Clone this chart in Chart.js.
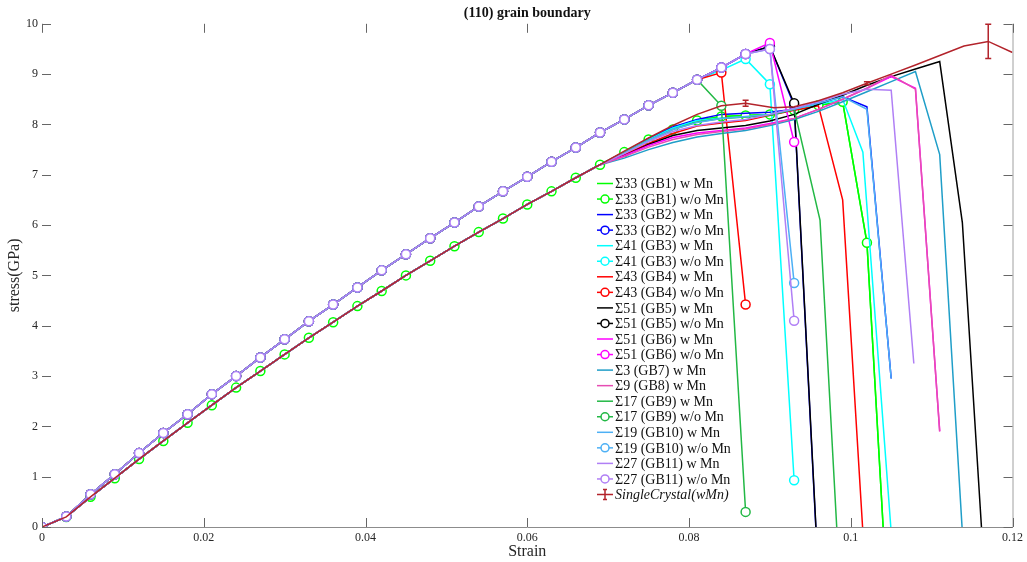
<!DOCTYPE html>
<html>
<head>
<meta charset="utf-8">
<script src="https://cdn.jsdelivr.net/npm/chart.js@4.4.1/dist/chart.umd.min.js"></script>
<style>
  html, body { margin: 0; padding: 0; background: #fff; }
  #wrap { width: 1027px; height: 562px; }
</style>
</head>
<body>
<div id="wrap"><canvas id="chart"></canvas></div>
<script>
// strain grid used by the loading part of every curve (step 0.003)
const strainGrid = [0, 0.003, 0.006, 0.009, 0.012, 0.015, 0.018, 0.021, 0.024, 0.027, 0.03, 0.033,
  0.036, 0.039, 0.042, 0.045, 0.048, 0.051, 0.054, 0.057, 0.06, 0.063, 0.066, 0.069, 0.072, 0.075,
  0.078, 0.081, 0.084, 0.087];

// loading path without Mn (upper curve), 0 .. 0.087
const stressNoMn = [0, 0.21, 0.65, 1.05, 1.47, 1.87, 2.24, 2.64, 3.0, 3.37, 3.73, 4.09, 4.42, 4.76,
  5.1, 5.42, 5.74, 6.05, 6.37, 6.67, 6.96, 7.26, 7.54, 7.84, 8.1, 8.38, 8.63, 8.89, 9.13, 9.4];

// loading path with Mn (lower curve), 0 .. 0.069
const stressMn = [0, 0.2, 0.6, 0.97, 1.35, 1.71, 2.07, 2.42, 2.77, 3.1, 3.43, 3.76, 4.07, 4.39,
  4.69, 5.0, 5.29, 5.58, 5.86, 6.13, 6.41, 6.67, 6.94, 7.2];

// failure parts, per series
const gb1Strain = [0.072, 0.075, 0.078, 0.081, 0.084, 0.087, 0.09, 0.093, 0.096, 0.099, 0.102, 0.105];
const gb1Stress = [7.45, 7.7, 7.9, 8.08, 8.16, 8.18, 8.2, 8.28, 8.38, 8.45, 5.65, -2.8];

const gb2MnStrain = [0.072, 0.075, 0.078, 0.081, 0.084, 0.087, 0.09, 0.093, 0.096, 0.099, 0.102, 0.105];
const gb2MnStress = [7.45, 7.72, 7.95, 8.1, 8.2, 8.22, 8.24, 8.3, 8.42, 8.55, 8.35, 2.95];
const gb2Strain = [0.09, 0.093, 0.096];
const gb2Stress = [9.55, 8.38, -1.0];

const gb3MnStrain = [0.072, 0.075, 0.078, 0.081, 0.084, 0.087, 0.09, 0.093, 0.096, 0.099, 0.1015, 0.105];
const gb3MnStress = [7.45, 7.7, 7.93, 8.08, 8.13, 8.15, 8.2, 8.3, 8.4, 8.5, 7.45, -0.1];
const gb3Strain = [0.084, 0.087, 0.09, 0.093];
const gb3Stress = [9.08, 9.3, 8.8, 0.93];

const gb4MnStrain = [0.072, 0.075, 0.078, 0.081, 0.084, 0.087, 0.09, 0.093, 0.096, 0.099, 0.1015];
const gb4MnStress = [7.4, 7.62, 7.82, 7.97, 8.03, 8.08, 8.18, 8.28, 8.37, 6.5, -0.1];
const gb4Strain = [0.084, 0.087];
const gb4Stress = [9.03, 4.42];

const gb5MnStrain = [0.072, 0.075, 0.078, 0.081, 0.084, 0.087, 0.09, 0.093, 0.096, 0.099, 0.102,
  0.105, 0.108, 0.111, 0.1138, 0.1162];
const gb5MnStress = [7.38, 7.6, 7.78, 7.88, 7.93, 7.98, 8.07, 8.2, 8.4, 8.58, 8.78, 8.95, 9.1, 9.25, 6.05, -0.1];
const gb5Strain = [0.09, 0.093, 0.096];
const gb5Stress = [9.55, 8.42, -0.95];

const gb6MnStrain = [0.072, 0.075, 0.078, 0.081, 0.084, 0.087, 0.09, 0.093, 0.096, 0.099, 0.102, 0.105, 0.108, 0.111];
const gb6MnStress = [7.38, 7.58, 7.74, 7.83, 7.88, 7.93, 8.02, 8.12, 8.3, 8.5, 8.72, 8.95, 8.72, 1.9];
const gb6Strain = [0.09, 0.093];
const gb6Stress = [9.62, 7.65];

const gb7MnStrain = [0.072, 0.075, 0.078, 0.081, 0.084, 0.087, 0.09, 0.093, 0.096, 0.099, 0.102, 0.105, 0.108, 0.111, 0.1138];
const gb7MnStress = [7.33, 7.5, 7.64, 7.75, 7.82, 7.88, 7.98, 8.1, 8.26, 8.45, 8.65, 8.85, 9.05, 7.4, -0.1];

const gb8MnStrain = [0.072, 0.075, 0.078, 0.081, 0.084, 0.087, 0.09, 0.093, 0.096, 0.099, 0.102, 0.105, 0.108, 0.111];
const gb8MnStress = [7.36, 7.55, 7.7, 7.8, 7.86, 7.91, 8.0, 8.12, 8.3, 8.5, 8.72, 8.98, 8.7, 1.9];

const gb9MnStrain = [0.072, 0.075, 0.078, 0.081, 0.084, 0.087, 0.09, 0.093, 0.0962, 0.0983];
const gb9MnStress = [7.44, 7.68, 7.9, 8.05, 8.12, 8.15, 8.18, 8.3, 6.1, -0.1];
const gb9Strain = [0.084, 0.087];
const gb9Stress = [8.37, 0.3];

const gb10MnStrain = [0.072, 0.075, 0.078, 0.081, 0.084, 0.087, 0.09, 0.093, 0.096, 0.099, 0.102, 0.105];
const gb10MnStress = [7.43, 7.68, 7.9, 8.04, 8.12, 8.16, 8.2, 8.3, 8.42, 8.55, 8.3, 2.95];
const gb10Strain = [0.09, 0.093];
const gb10Stress = [9.5, 4.85];

const gb11MnStrain = [0.072, 0.075, 0.078, 0.081, 0.084, 0.087, 0.09, 0.093, 0.096, 0.099, 0.102, 0.105, 0.1078];
const gb11MnStress = [7.42, 7.66, 7.86, 7.98, 8.05, 8.1, 8.2, 8.32, 8.45, 8.6, 8.7, 8.68, 3.25];
const gb11Strain = [0.09, 0.093];
const gb11Stress = [9.5, 4.1];

const crystalStrain = [0.072, 0.075, 0.078, 0.081, 0.084, 0.087, 0.0905, 0.093, 0.096, 0.099, 0.102,
  0.105, 0.108, 0.111, 0.114, 0.117, 0.12];
const crystalStress = [7.47, 7.73, 7.98, 8.2, 8.37, 8.42, 8.33, 8.35, 8.47, 8.63, 8.82, 9.0, 9.18,
  9.37, 9.56, 9.65, 9.43];
const crystalError = [0, 0, 0, 0, 0, 0.06, 0, 0, 0, 0, 0.03, 0, 0, 0, 0, 0.34, 0];

const SERIF = '"Liberation Serif", "DejaVu Serif", serif';

// head: which loading path, cut: how many grid points of it are used
const series = [
  { label: 'Σ33 (GB1) w Mn', color: '#00ff00', head: stressMn, cut: 24, strain: gb1Strain, stress: gb1Stress },
  { label: 'Σ33 (GB1) w/o Mn', color: '#00ff00', marker: true, head: stressMn, cut: 24, strain: gb1Strain, stress: gb1Stress },
  { label: 'Σ33 (GB2) w Mn', color: '#0000ff', head: stressMn, cut: 24, strain: gb2MnStrain, stress: gb2MnStress },
  { label: 'Σ33 (GB2) w/o Mn', color: '#0000ff', marker: true, head: stressNoMn, cut: 30, strain: gb2Strain, stress: gb2Stress },
  { label: 'Σ41 (GB3) w Mn', color: '#00ffff', head: stressMn, cut: 24, strain: gb3MnStrain, stress: gb3MnStress },
  { label: 'Σ41 (GB3) w/o Mn', color: '#00ffff', marker: true, head: stressNoMn, cut: 28, strain: gb3Strain, stress: gb3Stress },
  { label: 'Σ43 (GB4) w Mn', color: '#ff0000', head: stressMn, cut: 24, strain: gb4MnStrain, stress: gb4MnStress },
  { label: 'Σ43 (GB4) w/o Mn', color: '#ff0000', marker: true, head: stressNoMn, cut: 28, strain: gb4Strain, stress: gb4Stress },
  { label: 'Σ51 (GB5) w Mn', color: '#000000', head: stressMn, cut: 24, strain: gb5MnStrain, stress: gb5MnStress },
  { label: 'Σ51 (GB5) w/o Mn', color: '#000000', marker: true, head: stressNoMn, cut: 30, strain: gb5Strain, stress: gb5Stress },
  { label: 'Σ51 (GB6) w Mn', color: '#ff00ff', head: stressMn, cut: 24, strain: gb6MnStrain, stress: gb6MnStress },
  { label: 'Σ51 (GB6) w/o Mn', color: '#ff00ff', marker: true, head: stressNoMn, cut: 30, strain: gb6Strain, stress: gb6Stress },
  { label: 'Σ3 (GB7) w Mn', color: '#1f9ec8', head: stressMn, cut: 24, strain: gb7MnStrain, stress: gb7MnStress },
  { label: 'Σ9 (GB8) w Mn', color: '#e64db3', head: stressMn, cut: 24, strain: gb8MnStrain, stress: gb8MnStress },
  { label: 'Σ17 (GB9) w Mn', color: '#22b845', head: stressMn, cut: 24, strain: gb9MnStrain, stress: gb9MnStress },
  { label: 'Σ17 (GB9) w/o Mn', color: '#22b845', marker: true, head: stressNoMn, cut: 28, strain: gb9Strain, stress: gb9Stress },
  { label: 'Σ19 (GB10) w Mn', color: '#4db0f5', head: stressMn, cut: 24, strain: gb10MnStrain, stress: gb10MnStress },
  { label: 'Σ19 (GB10) w/o Mn', color: '#4db0f5', marker: true, head: stressNoMn, cut: 30, strain: gb10Strain, stress: gb10Stress },
  { label: 'Σ27 (GB11) w Mn', color: '#b07ff5', head: stressMn, cut: 24, strain: gb11MnStrain, stress: gb11MnStress },
  { label: 'Σ27 (GB11) w/o Mn', color: '#b07ff5', marker: true, head: stressNoMn, cut: 30, strain: gb11Strain, stress: gb11Stress },
  { label: 'SingleCrystal(wMn)', color: '#b3232b', head: stressMn, cut: 24, strain: crystalStrain, stress: crystalStress, errors: crystalError, italic: true }
];

function buildPoints(s) {
  const pts = s.head.slice(0, s.cut).map((v, i) => ({ x: strainGrid[i], y: v }));
  s.strain.forEach((e, i) => pts.push({ x: e, y: s.stress[i] }));
  return pts;
}

const datasets = series.map((s, i) => ({
  label: s.label,
  data: buildPoints(s),
  borderColor: s.color,
  backgroundColor: s.color,
  borderWidth: 1.5,
  pointRadius: s.marker ? 4.5 : 0,
  pointBorderWidth: 1.5,
  pointBackgroundColor: '#ffffff',
  pointBorderColor: s.color,
  tension: 0,
  order: -i,
  errorBars: s.errors ? new Array(s.cut).fill(0).concat(s.errors) : null,
  italicLabel: !!s.italic
}));

// error bars of the single crystal curve
const errorBarPlugin = {
  id: 'errorBars',
  afterDatasetsDraw(chart) {
    const { ctx, scales: { x, y } } = chart;
    chart.data.datasets.forEach(ds => {
      if (!ds.errorBars) return;
      ctx.save();
      ctx.strokeStyle = ds.borderColor;
      ctx.lineWidth = 1.5;
      ds.data.forEach((p, i) => {
        const err = ds.errorBars[i];
        if (!err) return;
        const px = x.getPixelForValue(p.x);
        const top = y.getPixelForValue(p.y + err);
        const bot = y.getPixelForValue(p.y - err);
        ctx.beginPath();
        ctx.moveTo(px, top); ctx.lineTo(px, bot);
        ctx.moveTo(px - 3, top); ctx.lineTo(px + 3, top);
        ctx.moveTo(px - 3, bot); ctx.lineTo(px + 3, bot);
        ctx.stroke();
      });
      ctx.restore();
    });
  }
};

// inward tick marks and right edge, like the original figure
const frameTicksPlugin = {
  id: 'frameTicks',
  afterDraw(chart) {
    const { ctx, chartArea: a, scales: { x, y } } = chart;
    ctx.save();
    ctx.lineWidth = 1;
    ctx.strokeStyle = '#a0a0a0';
    ctx.beginPath();
    ctx.moveTo(a.right + 0.5, a.top); ctx.lineTo(a.right + 0.5, a.bottom);
    ctx.stroke();
    ctx.strokeStyle = '#666666';
    ctx.beginPath();
    x.ticks.forEach(t => {
      const px = Math.round(x.getPixelForValue(t.value)) + 0.5;
      ctx.moveTo(px, a.bottom); ctx.lineTo(px, a.bottom - 9);
      ctx.moveTo(px, a.top); ctx.lineTo(px, a.top + 9);
    });
    y.ticks.forEach(t => {
      const py = Math.round(y.getPixelForValue(t.value)) + 0.5;
      ctx.moveTo(a.left, py); ctx.lineTo(a.left + 9, py);
      ctx.moveTo(a.right, py); ctx.lineTo(a.right - 9, py);
    });
    ctx.stroke();
    ctx.restore();
  }
};

// legend placed inside the plot, as in the figure
const insideLegendPlugin = {
  id: 'insideLegend',
  afterDraw(chart) {
    const ctx = chart.ctx;
    const x0 = 597, top = 183.5, step = 15.55;
    ctx.save();
    chart.data.datasets.forEach((ds, i) => {
      const yy = top + i * step;
      ctx.strokeStyle = ds.borderColor;
      ctx.lineWidth = 1.5;
      ctx.beginPath();
      ctx.moveTo(x0, yy); ctx.lineTo(x0 + 16, yy);
      ctx.stroke();
      if (ds.pointRadius > 0) {
        ctx.beginPath();
        ctx.arc(x0 + 8, yy, 4, 0, Math.PI * 2);
        ctx.fillStyle = '#ffffff';
        ctx.fill();
        ctx.stroke();
      }
      if (ds.errorBars) {
        ctx.beginPath();
        ctx.moveTo(x0 + 8, yy - 5); ctx.lineTo(x0 + 8, yy + 5);
        ctx.moveTo(x0 + 6, yy - 5); ctx.lineTo(x0 + 10, yy - 5);
        ctx.moveTo(x0 + 6, yy + 5); ctx.lineTo(x0 + 10, yy + 5);
        ctx.stroke();
      }
      ctx.fillStyle = '#111111';
      ctx.font = (ds.italicLabel ? 'italic ' : '') + '14px ' + SERIF;
      ctx.textBaseline = 'middle';
      ctx.textAlign = 'left';
      ctx.fillText(ds.label, x0 + 18, yy + 1);
    });
    ctx.restore();
  }
};

new Chart(document.getElementById('chart'), {
  type: 'line',
  data: { datasets },
  plugins: [errorBarPlugin, frameTicksPlugin, insideLegendPlugin],
  options: {
    responsive: true,
    maintainAspectRatio: false,
    animation: false,
    events: [],
    layout: { padding: { left: 0, right: 12, top: 0, bottom: 0 } },
    plugins: {
      legend: { display: false },
      tooltip: { enabled: false },
      title: {
        display: true,
        text: '(110) grain boundary',
        fullSize: false,
        color: '#111111',
        font: { family: SERIF, size: 14, weight: 'bold' },
        padding: { top: 5, bottom: 2 }
      }
    },
    scales: {
      x: {
        type: 'linear',
        min: 0,
        max: 0.12,
        afterFit: s => { s.height = 35; },
        ticks: {
          stepSize: 0.02,
          padding: 4,
          color: '#262626',
          font: { family: SERIF, size: 12 },
          maxRotation: 0,
          callback: v => String(Math.round(v * 100) / 100)
        },
        grid: { display: false, drawTicks: false, tickLength: 0 },
        border: { display: true, color: '#8c8c8c', width: 1 },
        title: {
          display: true,
          text: 'Strain',
          color: '#262626',
          font: { family: SERIF, size: 16 },
          padding: { top: 0, bottom: 1 }
        }
      },
      y: {
        min: 0,
        max: 10,
        afterFit: s => { s.width = 42; },
        ticks: {
          stepSize: 1,
          padding: 4,
          color: '#262626',
          font: { family: SERIF, size: 12 }
        },
        grid: { display: false, drawTicks: false, tickLength: 0 },
        border: { display: false },
        title: {
          display: true,
          text: 'stress(GPa)',
          color: '#262626',
          font: { family: SERIF, size: 16 },
          padding: { top: 5, bottom: 0 }
        }
      }
    }
  }
});
</script>
</body>
</html>
